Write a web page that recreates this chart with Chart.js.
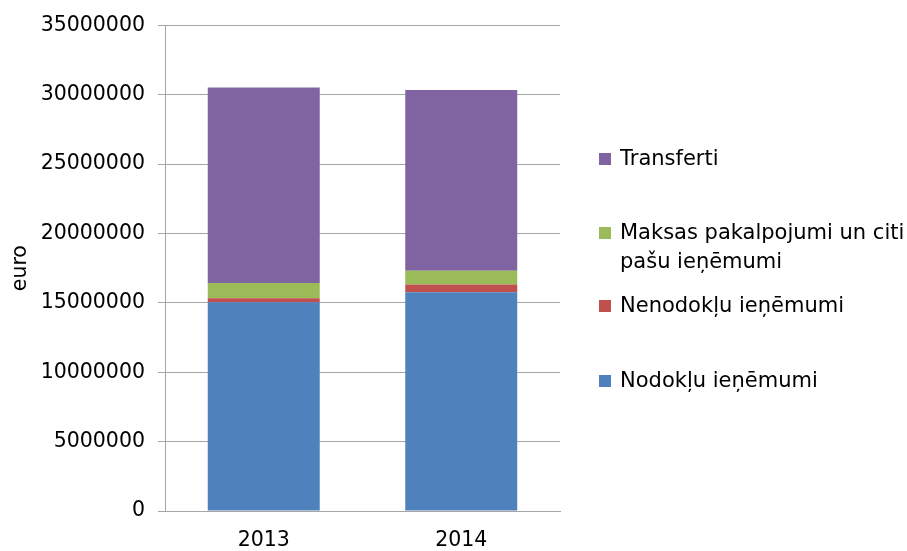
<!DOCTYPE html>
<html>
<head>
<meta charset="utf-8">
<script src="https://cdn.jsdelivr.net/npm/chart.js@4/dist/chart.umd.min.js"></script>
<style>
  html, body { margin: 0; padding: 0; background: #fff; }
  #wrap { width: 907px; height: 551px; position: relative; }
</style>
</head>
<body>
<div id="wrap"><canvas id="c" width="907" height="551"></canvas></div>
<script>
// ---- data ----
const categories = ['2013', '2014'];
const seriesNames = ['Nodokļu ieņēmumi', 'Nenodokļu ieņēmumi', 'Maksas pakalpojumi un citi pašu ieņēmumi', 'Transferti'];
const nodoklu    = [15050000, 15770000];
const nenodoklu  = [280000, 550000];
const maksas     = [1100000, 1000000];
const transferti = [14090000, 13020000];
const yTicks = [0, 5000000, 10000000, 15000000, 20000000, 25000000, 30000000, 35000000];
const yAxisTitle = 'euro';

const seriesValues = [nodoklu, nenodoklu, maksas, transferti];
const seriesColors = ['#4F81BD', '#C0504D', '#9BBB59', '#8064A2'];

const FONT = '"DejaVu Sans", Verdana, sans-serif';

// custom legend drawn to the right of the plot (Excel-like layout)
const sideLegend = {
  id: 'sideLegend',
  afterDraw(chart, args, opts) {
    const ctx = chart.ctx;
    const ds = chart.data.datasets;
    const order = [3, 2, 1, 0];           // top-to-bottom in legend
    const centers = opts.centers;         // y centers of first lines
    ctx.save();
    ctx.font = opts.fontSize + 'px ' + FONT;
    ctx.textBaseline = 'middle';
    ctx.textAlign = 'left';
    order.forEach((di, k) => {
      const d = ds[di];
      const yc = centers[k];
      const words = d.label.split(' ');
      const lines = [];
      let cur = '';
      words.forEach(w => {
        const t = cur ? cur + ' ' + w : w;
        if (ctx.measureText(t).width > opts.maxWidth && cur) { lines.push(cur); cur = w; }
        else cur = t;
      });
      if (cur) lines.push(cur);
      ctx.fillStyle = d.backgroundColor;
      ctx.fillRect(opts.boxX, yc - 6, 12, 12);
      ctx.fillStyle = '#000';
      lines.forEach((ln, i) => ctx.fillText(ln, opts.textX, yc + 1 + i * opts.lineGap));
    });
    ctx.restore();
  }
};

new Chart(document.getElementById('c'), {
  type: 'bar',
  data: {
    labels: categories,
    datasets: seriesNames.map((n, i) => ({
      label: n,
      data: seriesValues[i],
      backgroundColor: seriesColors[i],
      borderWidth: 0,
      barPercentage: 0.567,
      categoryPercentage: 1.0
    }))
  },
  options: {
    responsive: false,
    animation: false,
    devicePixelRatio: 1,
    layout: { padding: { top: 19, right: 347, bottom: 0, left: 0 } },
    plugins: {
      legend: { display: false },
      tooltip: { enabled: false },
      sideLegend: { boxX: 599, textX: 620, maxWidth: 287, lineGap: 29, fontSize: 21, centers: [159, 233, 306, 381] }
    },
    scales: {
      x: {
        stacked: true,
        grid: { display: false, drawTicks: false },
        border: { display: true, color: '#a6a6a6', width: 1 },
        ticks: { color: '#000', font: { family: FONT, size: 20.5 }, padding: 17 },
        afterFit(s) { s.height = 40; }
      },
      y: {
        stacked: true,
        min: 0,
        max: 35000000,
        afterBuildTicks(s) { s.ticks = yTicks.map(v => ({ value: v })); },
        grid: { color: '#a6a6a6', lineWidth: 1, drawTicks: true, tickLength: 7, tickColor: '#a6a6a6' },
        border: { display: true, color: '#a6a6a6', width: 1 },
        ticks: { color: '#000', font: { family: FONT, size: 20.5 }, padding: 13, callback: v => String(v) },
        title: { display: true, text: yAxisTitle, color: '#000', font: { family: FONT, size: 20.5 }, padding: { top: 8, bottom: 0 } },
        afterFit(s) { s.width = 165; }
      }
    }
  },
  plugins: [sideLegend]
});
</script>
</body>
</html>
